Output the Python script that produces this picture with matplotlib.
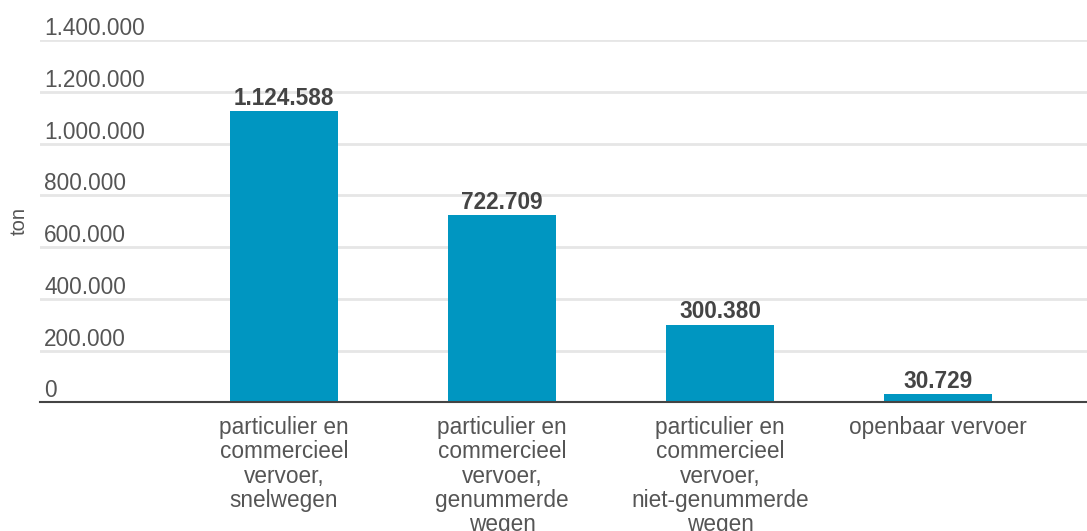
import matplotlib.pyplot as plt

plt.rcParams['font.family'] = ['Liberation Sans', 'DejaVu Sans']

# Data
categories = [
    "particulier en\ncommercieel\nvervoer,\nsnelwegen",
    "particulier en\ncommercieel\nvervoer,\ngenummerde\nwegen",
    "particulier en\ncommercieel\nvervoer,\nniet-genummerde\nwegen",
    "openbaar vervoer",
]
values = [1124588, 722709, 300380, 30729]
yticks = [0, 200000, 400000, 600000, 800000, 1000000, 1200000, 1400000]

bar_color = "#0096c1"


def dutch(v):
    return f"{int(v):,}".replace(",", ".")


W, H = 1087, 531
fig = plt.figure(figsize=(W / 100, H / 100), dpi=100)
ax = fig.add_axes([40 / W, (H - 402.3) / H, 1 - 40 / W, (402.3 - 40) / H])

x = list(range(len(values)))
ax.bar(x, values, width=0.495, color=bar_color, zorder=3)
ax.set_xlim(-1.119, 3.683)
ax.set_ylim(0, 1400000)

# horizontal gridlines, labels sit just above each line
ax.set_yticks(yticks)
ax.yaxis.grid(True, color="#e6e6e6", linewidth=2, zorder=0)
ax.tick_params(axis="y", length=0, labelleft=False)
for t in yticks:
    ax.text(0.004, t, dutch(t), transform=ax.get_yaxis_transform(),
            ha="left", va="bottom", fontsize=16.3, color="#555555")

ax.set_xticks(x)
ax.set_xticklabels(categories, fontsize=16.3, color="#555555", linespacing=1.07)
ax.tick_params(axis="x", length=0, pad=10)

for s in ["top", "right", "left"]:
    ax.spines[s].set_visible(False)
ax.spines["bottom"].set_color("#444444")
ax.spines["bottom"].set_linewidth(1.5)
ax.spines["bottom"].set_zorder(4)

for xi, v in zip(x, values):
    ax.annotate(dutch(v), (xi, v), xytext=(0, 1), textcoords="offset points",
                ha="center", va="bottom", fontsize=16.3, fontweight="bold",
                color="#444444")

fig.text(19 / W, (H - 221) / H, "ton", rotation=90, ha="center", va="center",
         fontsize=14.5, color="#555555")

fig.savefig("out.png", dpi=100)
